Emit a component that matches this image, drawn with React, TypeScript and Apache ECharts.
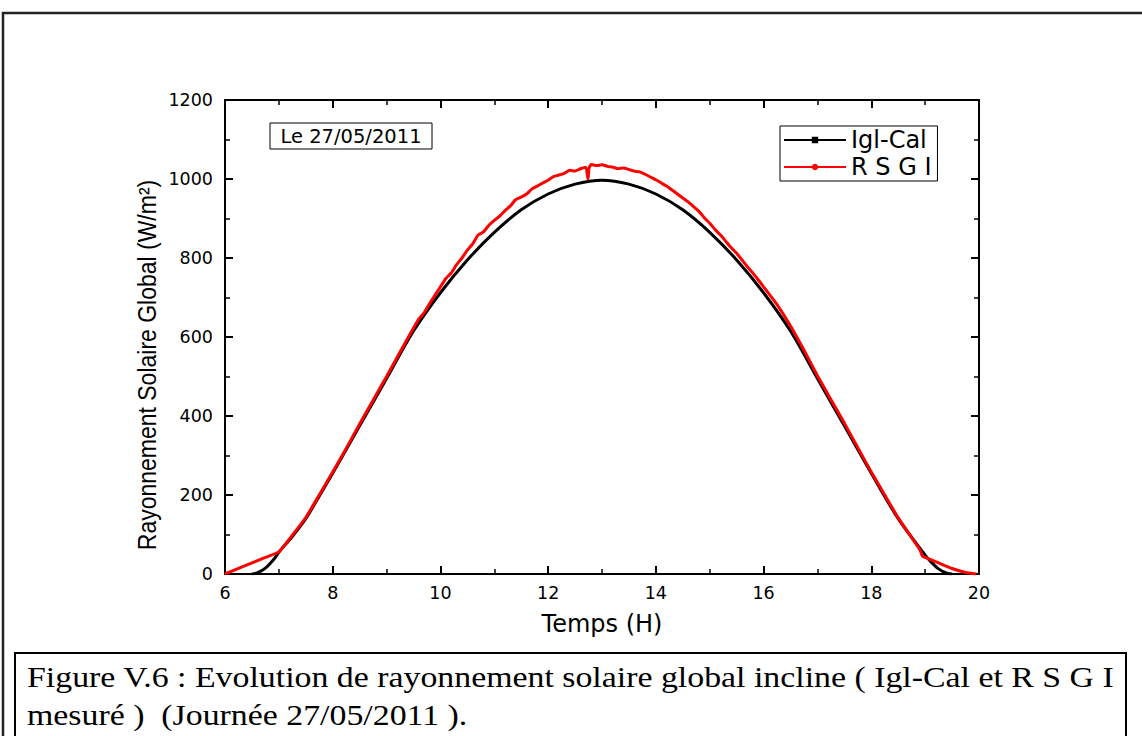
import React, { useEffect, useRef } from "react";
import * as echarts from "echarts";

// Igl-Cal (calculated) — hours and W/m2
const calHours = [6.5, 6.6, 6.75, 6.9, 7.0, 7.25, 7.5, 7.75, 8.0, 8.5, 9.0, 9.5, 10.0, 10.5, 11.0, 11.5, 12.0, 12.5, 13.0, 13.5, 14.0, 14.5, 15.0, 15.5, 16.0, 16.5, 17.0, 17.5, 18.0, 18.5, 19.0, 19.1, 19.25, 19.4, 19.5];
const calValues = [0, 3, 15, 36, 55, 95, 140, 197, 255, 375, 495, 615, 712, 795, 865, 922, 962, 987, 997, 987, 962, 922, 865, 795, 712, 615, 495, 375, 255, 140, 48, 32, 13, 2, 0];

// R S G I (measured)
const rsgiHours = [
  6.0, 6.25, 6.5, 6.75, 7.0, 7.25, 7.5, 7.75, 8.0, 8.25, 8.5, 8.75, 9.0, 9.25, 9.5,
  9.6, 9.7, 9.8, 9.9, 10.0, 10.1, 10.2, 10.3, 10.4, 10.5, 10.6, 10.7, 10.8, 10.9,
  11.0, 11.1, 11.2, 11.3, 11.4, 11.5, 11.6, 11.7, 11.8, 11.9,
  12.0, 12.1, 12.2, 12.3, 12.4, 12.5, 12.6, 12.7, 12.74, 12.76, 12.8, 12.9,
  13.0, 13.1, 13.2, 13.3, 13.4, 13.5, 13.6, 13.7, 13.8, 13.9,
  14.0, 14.1, 14.2, 14.3, 14.4, 14.5, 14.6, 14.7, 14.8, 14.9,
  15.0, 15.1, 15.2, 15.3, 15.4, 15.5, 15.6, 15.7, 15.8, 15.9,
  16.0, 16.25, 16.5, 16.75, 17.0, 17.25, 17.5, 17.75, 18.0, 18.25, 18.5, 18.75, 18.9, 18.95,
  19.0, 19.25, 19.5, 19.75, 19.95,
];
const rsgiValues = [
  0, 14, 28, 42, 56, 98, 143, 200, 258, 318, 380, 440, 500, 562, 623,
  646, 662, 685, 706, 727, 748, 762, 783, 800, 820, 836, 858, 866, 883,
  895, 906, 920, 932, 948, 954, 962, 975, 982, 990,
  997, 1006, 1010, 1014, 1022, 1020, 1026, 1030, 1000, 1028, 1037, 1034,
  1036, 1032, 1030, 1026, 1028, 1024, 1020, 1018, 1012, 1005,
  998, 990, 982, 972, 962, 952, 942, 930, 918, 902,
  888, 872, 858, 842, 826, 812, 795, 778, 762, 745,
  727, 682, 628, 567, 502, 442, 382, 320, 258, 200, 142, 92, 62, 45,
  42, 28, 14, 4, 0,
];

const xTicks = { min: 6, max: 20, interval: 2 };
const yTicks = { min: 0, max: 1200, interval: 200 };

const seriesNames = ["Igl-Cal", "R S G I"];
const xTitle = "Temps (H)";
const yTitle = "Rayonnement Solaire Global (W/m²)";
const dateLabel = "Le 27/05/2011";
const captionLine1 = "Figure V.6 : Evolution de rayonnement solaire global incline ( Igl-Cal et R S G I";
const captionLine2 = "mesuré )  (Journée 27/05/2011 ).";

const SANS = "DejaVu Sans";

export default function App() {
  const ref = useRef<HTMLDivElement>(null);
  useEffect(() => {
    document.body.style.margin = "0";
    if (!ref.current) return;
    const chart = echarts.init(ref.current, null, { renderer: "svg" });

    const axisLine = { show: true, onZero: false, lineStyle: { color: "#000", width: 2 } };
    const tick = { show: true, inside: true, length: 8, lineStyle: { color: "#000", width: 2 } };
    const minor = { show: true, splitNumber: 2, length: 5, lineStyle: { color: "#000", width: 1.5 } };
    const plainLabel = (v: number) => String(v);

    chart.setOption({
      animation: false,
      backgroundColor: "#fff",
      grid: { left: 225, top: 100, right: 163, bottom: 162, containLabel: false },
      legend: {
        orient: "vertical",
        left: 780,
        top: 126,
        data: seriesNames,
        itemWidth: 62,
        itemHeight: 8,
        itemGap: 3,
        padding: [2, 6, 2, 3],
        borderColor: "#000",
        borderWidth: 1,
        textStyle: { fontFamily: SANS, fontSize: 24, color: "#000" },
      },
      xAxis: [
        {
          type: "value",
          position: "bottom",
          ...xTicks,
          name: xTitle,
          nameLocation: "middle",
          nameGap: 38,
          nameTextStyle: { fontFamily: SANS, fontSize: 24, color: "#000" },
          axisLine,
          axisTick: tick,
          minorTick: minor,
          splitLine: { show: false },
          axisLabel: { fontFamily: SANS, fontSize: 17.5, color: "#000", margin: 10, formatter: plainLabel },
        },
        {
          type: "value",
          position: "top",
          ...xTicks,
          axisLine,
          axisTick: tick,
          minorTick: minor,
          splitLine: { show: false },
          axisLabel: { show: false },
        },
      ],
      yAxis: [
        {
          type: "value",
          position: "left",
          ...yTicks,
          axisLine,
          axisTick: tick,
          minorTick: minor,
          splitLine: { show: false },
          axisLabel: { fontFamily: SANS, fontSize: 17.5, color: "#000", margin: 12, formatter: plainLabel },
        },
        {
          type: "value",
          position: "right",
          ...yTicks,
          axisLine,
          axisTick: tick,
          minorTick: minor,
          splitLine: { show: false },
          axisLabel: { show: false },
        },
      ],
      series: [
        {
          name: seriesNames[0],
          type: "line",
          data: calHours.map((h, i) => [h, calValues[i]]),
          smooth: 0.3,
          symbol: "rect",
          symbolSize: 6,
          showSymbol: false,
          itemStyle: { color: "#000" },
          lineStyle: { color: "#000", width: 3 },
          z: 2,
        },
        {
          name: seriesNames[1],
          type: "line",
          data: rsgiHours.map((h, i) => [h, rsgiValues[i]]),
          smooth: 0.15,
          symbol: "circle",
          symbolSize: 6,
          showSymbol: false,
          itemStyle: { color: "#ff0000" },
          lineStyle: { color: "#ff0000", width: 3 },
          z: 3,
        },
      ],
      graphic: [
        {
          type: "rect",
          silent: true,
          shape: { x: 3, y: 13, width: 1160, height: 740 },
          style: { fill: "none", stroke: "#222", lineWidth: 2.5 },
        },
        {
          type: "text",
          silent: true,
          x: 147,
          y: 365,
          rotation: Math.PI / 2,
          scaleY: 1.15,
          style: { text: yTitle, fontFamily: "Liberation Sans", fontSize: 23, fill: "#000", align: "center", verticalAlign: "middle" },
        },
        {
          type: "rect",
          silent: true,
          shape: { x: 270, y: 123, width: 162, height: 26 },
          style: { fill: "#fff", stroke: "#000", lineWidth: 1 },
          z: 10,
        },
        {
          type: "text",
          silent: true,
          x: 351,
          y: 136,
          style: { text: dateLabel, fontFamily: SANS, fontSize: 19.5, fill: "#000", align: "center", verticalAlign: "middle" },
          z: 11,
        },
        {
          type: "rect",
          silent: true,
          shape: { x: 15, y: 653, width: 1111, height: 120 },
          style: { fill: "#fff", stroke: "#000", lineWidth: 2 },
        },
        {
          type: "text",
          silent: true,
          x: 27,
          y: 662,
          scaleX: 1.128,
          style: { text: captionLine1, fontFamily: "Liberation Serif", fontSize: 30, fill: "#000", align: "left", verticalAlign: "top" },
        },
        {
          type: "text",
          silent: true,
          x: 27,
          y: 700,
          scaleX: 1.128,
          style: { text: captionLine2, fontFamily: "Liberation Serif", fontSize: 30, fill: "#000", align: "left", verticalAlign: "top" },
        },
      ],
    });
    return () => chart.dispose();
  }, []);
  return <div ref={ref} style={{ width: 1142, height: 736 }} />;
}
